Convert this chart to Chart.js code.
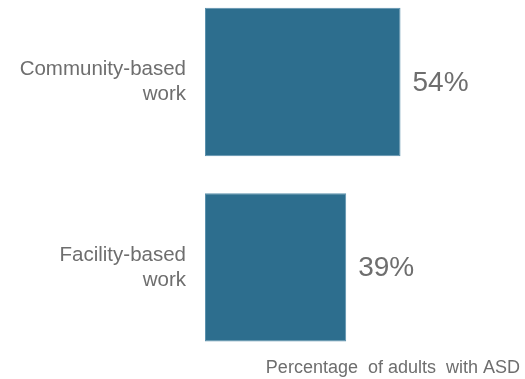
<!DOCTYPE html>
<html>
<head>
<meta charset="utf-8">
<script src="https://cdn.jsdelivr.net/npm/chart.js@4/dist/chart.umd.min.js"></script>
<style>
  html, body { margin: 0; padding: 0; background: #ffffff; }
  #wrap { width: 525px; height: 379px; }
</style>
</head>
<body>
<div id="wrap"><canvas id="chart" width="525" height="379"></canvas></div>
<script>
// Work setting categories (multi-line labels) and share of adults with ASD
const categories = [["Community-based", "work"], ["Facility-based", "work"]];
const percentages = [54, 39];
const axisTitle = "Percentage  of adults  with ASD";

const GRAY = "#6e6e6e";
const FONT = "'Liberation Sans', Arial, sans-serif";

// Writes the percentage just past the end of each bar
const valueLabels = {
  id: "valueLabels",
  afterDatasetsDraw(chart) {
    const ctx = chart.ctx;
    const meta = chart.getDatasetMeta(0);
    ctx.save();
    ctx.font = "28px " + FONT;
    ctx.fillStyle = GRAY;
    ctx.textAlign = "left";
    ctx.textBaseline = "middle";
    meta.data.forEach((bar, i) => {
      ctx.fillText(percentages[i] + "%", bar.x + 12, bar.y + 1);
    });
    ctx.restore();
  }
};

new Chart(document.getElementById("chart"), {
  type: "bar",
  data: {
    labels: categories,
    datasets: [{
      data: percentages,
      backgroundColor: "#2d6e8e",
      borderColor: "#5b91ad",
      borderWidth: 1,
      borderSkipped: false,
      categoryPercentage: 0.8,
      barPercentage: 1.0,
      clip: false
    }]
  },
  options: {
    indexAxis: "y",
    responsive: false,
    animation: false,
    events: [],
    layout: { padding: { left: 0, right: 5, top: 82, bottom: 0 } },
    plugins: {
      legend: { display: false },
      tooltip: { enabled: false },
      title: {
        display: true,
        position: "bottom",
        align: "end",
        text: axisTitle,
        color: GRAY,
        font: { family: FONT, size: 18, weight: "normal", lineHeight: 1.2 },
        padding: { top: 90, bottom: 0 }
      }
    },
    scales: {
      x: {
        display: false,
        min: 0,
        max: 87
      },
      y: {
        offset: false,
        grid: { display: false, drawTicks: false },
        border: { display: false },
        ticks: {
          color: GRAY,
          padding: 19,
          font: { family: FONT, size: 20.5, lineHeight: 1.22 }
        },
        afterFit(scale) { scale.width = 205; }
      }
    }
  },
  plugins: [valueLabels]
});
</script>
</body>
</html>
